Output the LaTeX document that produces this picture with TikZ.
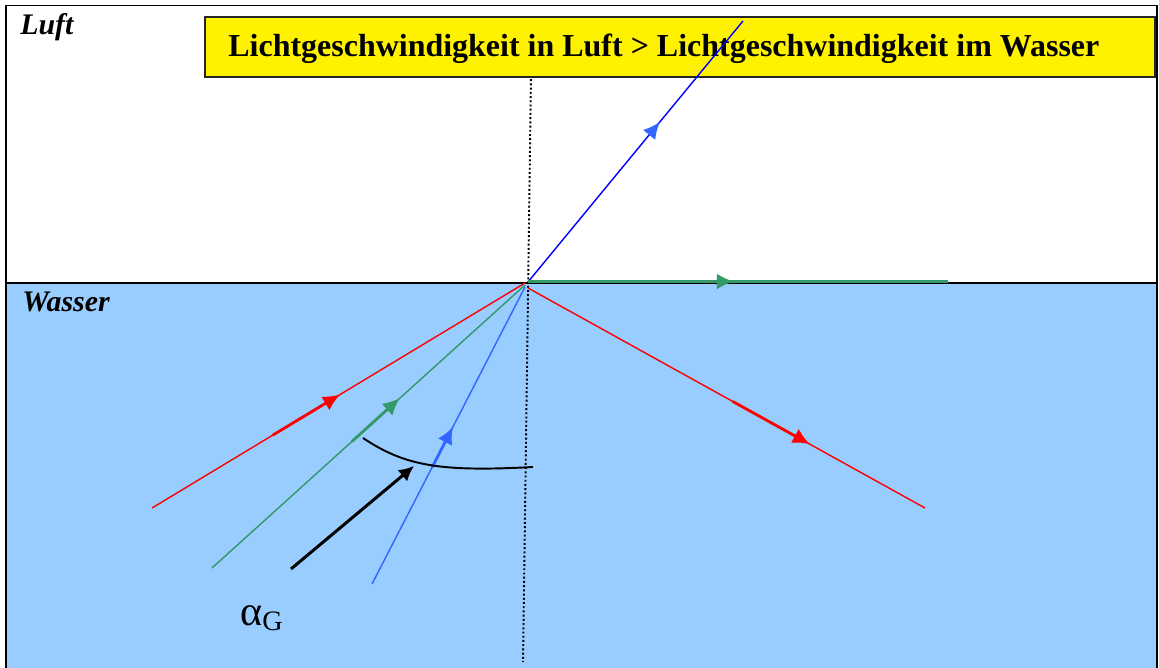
\documentclass[tikz,border=0pt]{standalone}
\usepackage{fontspec}
\setmainfont{Liberation Serif}
\usetikzlibrary{arrows.meta,calc}
\definecolor{wasser}{HTML}{99CCFF}
\definecolor{gruen}{HTML}{339966}
\definecolor{hblau}{HTML}{3366FF}

\begin{document}
\begin{tikzpicture}[x=0.02cm, y=-0.02cm,
    ray/.style={line width=0.8pt},
    shaft/.style={line width=1.6pt, -{Latex[length=0.34cm, width=0.32cm]}},
    medium/.style={font=\fontsize{17}{20}\selectfont\bfseries\itshape, inner sep=0pt, anchor=base west},
    titlebox/.style={draw=black!85, line width=1.1pt, fill=yellow, minimum width=19cm, minimum height=1.2cm, inner sep=0pt, anchor=north west},
    lot/.style={line width=1.1pt, dash pattern=on 1.1pt off 1.3pt}
]
\useasboundingbox (0,0) rectangle (1159,668);
\fill[wasser] (6,283) rectangle (1157,668);
\draw[line width=1.1pt] (6,668) |- (1157,5.5) -- (1157,668);
\draw[line width=1.4pt] (6,283) -- (1157,283);

\coordinate (O) at (527,284);
\coordinate (lottop) at (531,75);
\coordinate (lotbottom) at (523,662);
\draw[lot] (lottop) -- (lotbottom);

\node[titlebox] (kasten) at (204,16) {};
\node[anchor=base west, inner sep=0pt, font=\fontsize{18.2}{21}\selectfont\bfseries] (titel) at (228,57) {Lichtgeschwindigkeit in Luft > Lichtgeschwindigkeit im Wasser};
\node[medium] (luft) at (20,35) {Luft};
\node[medium] (wasser) at (22,312) {Wasser};
\node[anchor=base west, inner sep=0pt] (alphaG) at (240,625) {\fontsize{24}{24}\selectfont α\raisebox{-0.1cm}{\fontsize{16}{16}\selectfont G}};

% einfallende Strahlen
\coordinate (rotin) at (152,508);
\coordinate (gruenin) at (212,568);
\coordinate (blauin) at (372,584);
\draw[ray, red] (rotin) -- (525,283);
\draw[shaft, red] ($(rotin)!0.324!(525,283)$) -- ($(rotin)!0.504!(525,283)$);
\draw[ray, gruen] (gruenin) -- (525,285);
\draw[shaft, gruen] ($(gruenin)!0.447!(525,285)$) -- ($(gruenin)!0.60!(525,285)$);
\draw[ray, hblau] (blauin) -- (525,287);
\draw[shaft, hblau] ($(blauin)!0.392!(525,287)$) -- ($(blauin)!0.529!(525,287)$);

% gebrochene / reflektierte Strahlen
\coordinate (blauout) at (743,21);
\coordinate (gruenout) at (948,281.5);
\coordinate (rotout) at (925,508);
\draw[ray, blue] (528,282) -- (blauout);
\draw[shaft, hblau] ($(528,282)!0.567!(blauout)$) -- ($(528,282)!0.614!(blauout)$);
\draw[line width=1.4pt, gruen] (528,281.5) -- (gruenout);
\draw[shaft, gruen] ($(528,281.5)!0.41!(gruenout)$) -- ($(528,281.5)!0.49!(gruenout)$);
\draw[ray, red] (528,288) -- (rotout);
\draw[shaft, red] ($(528,288)!0.516!(rotout)$) -- ($(528,288)!0.71!(rotout)$);

% Grenzwinkel
\coordinate (bogenA) at (363,438);
\coordinate (bogenB) at (533,467);
\draw[line width=1.1pt] (bogenA) .. controls (405,466) and (440,472) .. (bogenB);
\coordinate (pfeilA) at (291,569);
\coordinate (pfeilB) at (414,466);
\draw[line width=1.7pt, -{Latex[length=0.3cm, width=0.3cm]}] (pfeilA) -- (pfeilB);
\end{tikzpicture}
\end{document}
